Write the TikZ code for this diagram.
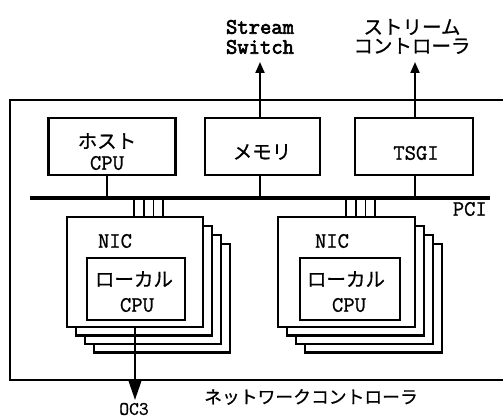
\documentclass[tikz,border=0pt]{standalone}
\usepackage{fontspec}
\setmonofont[FakeBold=1]{Latin Modern Mono}
\newfontfamily\ttbold[FakeBold=3]{Latin Modern Mono}
\newfontfamily\jp[FakeBold=0.6]{Noto Sans CJK JP}
\usetikzlibrary{arrows.meta}
\begin{document}
\begin{tikzpicture}[x=1pt,y=-1pt,
  box/.style={draw,line width=2.4pt,fill=white},
  inbox/.style={draw,line width=1.6pt,fill=white},
  lbl/.style={font=\fontsize{22}{24}\selectfont\ttfamily,inner sep=0pt},
  blbl/.style={font=\fontsize{22}{24}\selectfont\ttbold,inner sep=0pt},
  jlbl/.style={font=\fontsize{19.5}{22}\selectfont\jp,inner sep=0pt},
  wire/.style={line width=1.6pt},
  uparrow/.style={line width=2pt,-{Triangle[length=11pt,width=9pt]}},
  downarrow/.style={line width=2.4pt,-{Triangle[length=20pt,width=13pt]}}]
\useasboundingbox (0,0) rectangle (503,419);
% outer frame (right side beyond picture)
\draw[line width=1.3pt] (503,100) -- (10,100) -- (10,380) -- (503,380);
% top boxes
\node[box,minimum width=127pt,minimum height=57pt] (host) at (112,146.5) {};
\node[box,minimum width=115pt,minimum height=57pt] (mem) at (262.5,146.5) {};
\node[box,minimum width=118pt,minimum height=57pt] (tsgi) at (414,146.5) {};
\node[jlbl] (hostj) at (107,141) {ホスト};
\node[lbl] (hostc) at (107,163) {CPU};
\node[jlbl] (memj) at (262,152) {メモリ};
\node[lbl] (tsgit) at (416,153) {TSGI};
% bus
\coordinate (busL) at (30,198);
\coordinate (busR) at (490,198);
\draw[line width=3.5pt] (busL) -- (busR);
\node[lbl,anchor=east] (pci) at (487,209) {PCI};
% box to bus
\coordinate (hb) at (107,198);
\coordinate (mb) at (260,198);
\coordinate (tb) at (415,198);
\draw[wire] (107,175) -- (hb);
\draw[wire] (260,175) -- (mb);
\draw[wire] (415,175) -- (tb);
% up arrows
\coordinate (ss) at (260,62);
\coordinate (sc) at (415,62);
\draw[uparrow] (260,118) -- (ss);
\draw[uparrow] (415,118) -- (sc);
\node[blbl] (st1) at (260,27) {Stream};
\node[blbl] (st2) at (260,47) {Switch};
\node[jlbl] (sc1) at (412,27) {ストリーム};
\node[jlbl] (sc2) at (412,46) {コントローラ};
% NIC stacks
\foreach \k in {3,2,1} {
  \draw[box] (67+9*\k,217+9*\k) rectangle (203+9*\k,327+8.5*\k);
  \draw[box] (278+9*\k,217+9*\k) rectangle (415+9*\k,327+8.5*\k);
}
\node[box,minimum width=136pt,minimum height=110pt] (nicA) at (135,272) {};
\node[box,minimum width=137pt,minimum height=110pt] (nicB) at (346.5,272) {};
\node[inbox,minimum width=98pt,minimum height=62pt] (cpuA) at (136,289) {};
\node[inbox,minimum width=100pt,minimum height=62pt] (cpuB) at (350,289) {};
\node[lbl] (nicAt) at (115,241) {NIC};
\node[lbl] (nicBt) at (332,241) {NIC};
\node[jlbl] (cpuAj) at (134,279) {ローカル};
\node[lbl] (cpuAc) at (137,305) {CPU};
\node[jlbl] (cpuBj) at (346,279) {ローカル};
\node[lbl] (cpuBc) at (349,305) {CPU};
% bus to NIC connectors
\foreach \x in {134,143.7,153.3,163} { \draw[wire] (\x,198) -- (\x,217); }
\foreach \x in {346,355.7,365.3,375} { \draw[wire] (\x,198) -- (\x,217); }
% OC3
\coordinate (oc) at (135,400);
\draw[downarrow] (135,327) -- (oc);
\node[lbl,font=\fontsize{19}{21}\selectfont\ttfamily] (oct) at (134,409) {OC3};
\node[jlbl,font=\fontsize{17.8}{20}\selectfont\jp] (net) at (311,397) {ネットワークコントローラ};
\end{tikzpicture}
\end{document}
